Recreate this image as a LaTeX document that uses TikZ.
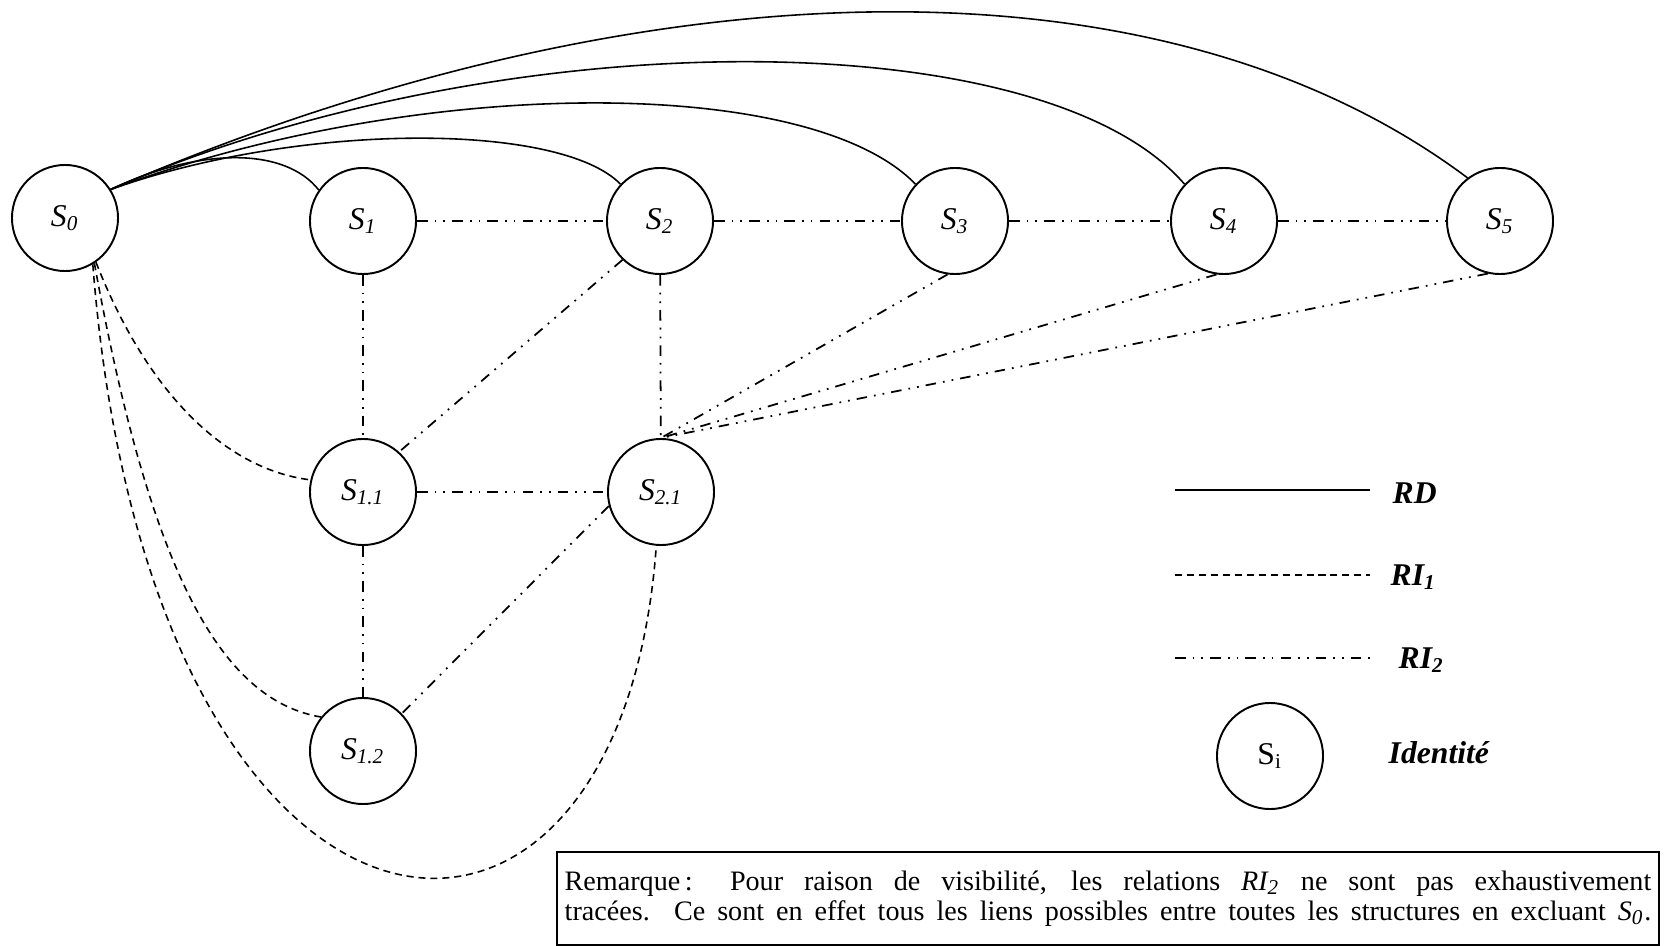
\documentclass[tikz,border=0pt]{standalone}
\usepackage{fontspec}
\setmainfont{Liberation Serif}
\newcommand{\ssub}[2]{\textit{#1}\textsubscript{\textit{#2}}}

\begin{document}
\begin{tikzpicture}[x=0.01cm,y=-0.01cm]
		\tikzstyle{every node}+=[inner sep=0pt]
		\tikzstyle{etat}=[draw,circle,line width=0.55pt,minimum size=1.06cm,font=\fontsize{9}{10}\selectfont]
		\tikzstyle{rd}=[line width=0.45pt]
		\tikzstyle{ri1}=[line width=0.45pt,dash pattern=on 2pt off 1.4pt]
		\tikzstyle{ri2}=[line width=0.5pt,dash pattern=on 3pt off 2pt on 0.5pt off 2pt on 0.5pt off 2pt]
		\tikzstyle{legende}=[anchor=west,font=\fontsize{9}{10}\selectfont\bfseries\itshape]
		\useasboundingbox (0,0) rectangle (1673,946);
		\node [etat] (s0) at (65,218) {\ssub{S}{0}};
		\node [etat] (s1) at (363,221) {\ssub{S}{1}};
		\node [etat] (s2) at (660,221) {\ssub{S}{2}};
		\node [etat] (s3) at (955,221) {\ssub{S}{3}};
		\node [etat] (s4) at (1224,221) {\ssub{S}{4}};
		\node [etat] (s5) at (1500,221) {\ssub{S}{5}};
		\node [etat] (s11) at (363,492) {\ssub{S}{1.1}};
		\node [etat] (s21) at (661,492) {\ssub{S}{2.1}};
		\node [etat] (s12) at (363,751) {\ssub{S}{1.2}};
		\draw [rd] (s0.32) .. controls (200,147) and (285,147) .. (s1.145);
		\draw [rd] (s0.32) .. controls (300,122) and (560,122) .. (s2.137);
		\draw [rd] (s0.32) .. controls (420,75) and (810,75) .. (s3.137);
		\draw [rd] (s0.32) .. controls (500,20) and (1043,20) .. (s4.137);
		\draw [rd] (s0.32) .. controls (620,-30) and (1150,-60) .. (s5.127);
		\draw [ri2] (s1) -- (s2);
		\draw [ri2] (s2) -- (s3);
		\draw [ri2] (s3) -- (s4);
		\draw [ri2] (s4) -- (s5);
		\draw [ri2] (s1) -- (s11);
		\draw [ri2] (s11) -- (s12);
		\draw [ri2] (s2) -- (s21);
		\draw [ri2] (s11) -- (s21);
		\draw [ri2] (s2.226) -- (s11.48);
		\draw [ri2] (s21.195) -- (s12.44);
		\draw [ri2] (s3.-98) -- (s21.north);
		\draw [ri2] (s4.-98) -- (s21.north);
		\draw [ri2] (s5.-103) -- (s21.north);
		\draw [ri1] (s0.-55) .. controls (150,400) and (230,470) .. (s11.167);
		\draw [ri1] (s0.-57) .. controls (150,570) and (220,700) .. (s12.141);
		\draw [ri1] (s0.-59) .. controls (150,1000) and (620,1050) .. (s21.-95);
		\coordinate (a1) at (1175,490);
		\coordinate (a2) at (1175,575);
		\coordinate (a3) at (1175,658);
		\node [legende] (lrd) at (1392,493) {RD};
		\node [legende] (lri1) at (1390,577) {RI\textsubscript{1}};
		\node [legende] (lri2) at (1398,660) {RI\textsubscript{2}};
		\draw [rd] (a1) -- ++(195,0);
		\draw [ri1] (a2) -- ++(195,0);
		\draw [ri2] (a3) -- ++(198,0);
		\node [etat] (leg) at (1270,756) {S\textsubscript{i}};
		\node [legende] (lid) at (1388,753) {Identité};
		\node [draw,line width=0.5pt,inner xsep=0.8mm,minimum height=0.93cm,text width=10.86cm,align=justify,font=\fontsize{8}{8.6}\selectfont] (rem) at (1108,898.5)
			{\makebox[10.86cm][s]{Remarque\,: Pour raison de visibilité, les relations \textit{RI\textsubscript{2}} ne sont pas exhaustivement}\\
			\makebox[10.86cm][s]{tracées. Ce sont en effet tous les liens possibles entre toutes les structures en excluant \textit{S\textsubscript{0}}.}};
	\end{tikzpicture}
\end{document}
